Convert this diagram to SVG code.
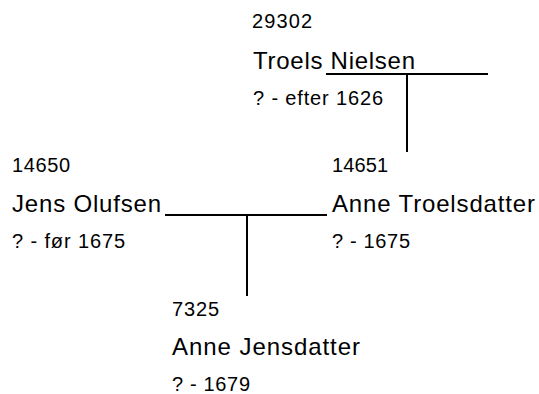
<svg xmlns="http://www.w3.org/2000/svg" width="539" height="394" viewBox="0 0 539 394">
<style>
text{font-family:"Liberation Sans",Arial,sans-serif;fill:#000}
.num{font-size:20px}
.name{font-size:24px}
.date{font-size:20px}
.link{stroke:#000;stroke-width:2;fill:none}
</style>
<rect width="539" height="394" fill="#fff"/>
<g id="connectors">
<path class="link" d="M326 74H488M407 74V152"/>
<path class="link" d="M165 215H327M247 215V296"/>
</g>
<g id="n29302">
<text class="num" x="252" y="28" textLength="60" lengthAdjust="spacing">29302</text>
<text class="name" x="253" y="69" textLength="162" lengthAdjust="spacing">Troels Nielsen</text>
<text class="date" x="253" y="105" textLength="130" lengthAdjust="spacing">? - efter 1626</text>
</g>
<g id="n14650">
<text class="num" x="12" y="172" textLength="58" lengthAdjust="spacing">14650</text>
<text class="name" x="12" y="212" textLength="149" lengthAdjust="spacing">Jens Olufsen</text>
<text class="date" x="12" y="248" textLength="113" lengthAdjust="spacing">? - før 1675</text>
</g>
<g id="n14651">
<text class="num" x="332" y="172" textLength="56" lengthAdjust="spacing">14651</text>
<text class="name" x="332" y="212" textLength="203" lengthAdjust="spacing">Anne Troelsdatter</text>
<text class="date" x="332" y="248" textLength="78" lengthAdjust="spacing">? - 1675</text>
</g>
<g id="n7325">
<text class="num" x="172" y="316" textLength="47" lengthAdjust="spacing">7325</text>
<text class="name" x="172" y="355" textLength="188" lengthAdjust="spacing">Anne Jensdatter</text>
<text class="date" x="172" y="391" textLength="78" lengthAdjust="spacing">? - 1679</text>
</g>
</svg>
